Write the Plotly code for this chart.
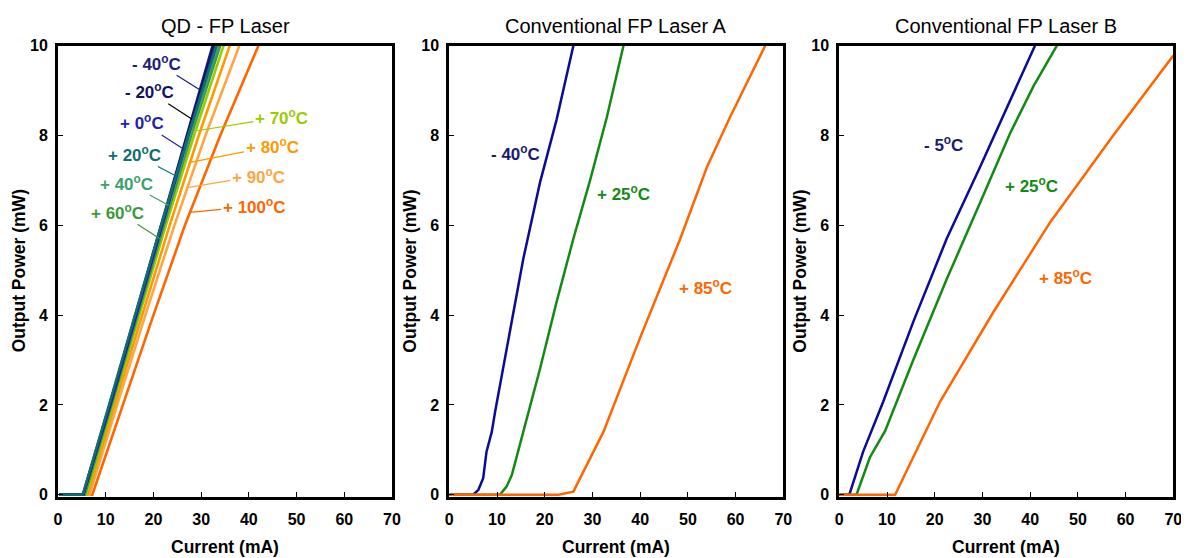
import numpy as np
import plotly.graph_objects as go
from plotly.subplots import make_subplots

# ---- QD - FP Laser: current (mA) at output power levels (mW) ----
qd_power = [0, 0, 2, 4, 6, 8, 10]
qd_temps = ["- 40", "- 20", "+ 0", "+ 20", "+ 40", "+ 60", "+ 70", "+ 80", "+ 90", "+ 100"]
qd_currents = {
    "- 40": [0.2, 5.2, 10.8, 16.2, 21.6, 26.9, 32.4],
    "- 20": [0.2, 5.3, 10.9, 16.3, 21.7, 27.1, 32.7],
    "+ 0": [0.2, 5.3, 11.0, 16.4, 21.8, 27.3, 33.0],
    "+ 20": [0.3, 5.2, 10.7, 16.1, 21.6, 27.3, 33.2],
    "+ 40": [0.3, 5.4, 11.0, 16.5, 22.0, 27.7, 33.6],
    "+ 60": [0.4, 5.6, 11.2, 16.7, 22.2, 27.9, 34.0],
    "+ 70": [0.5, 5.9, 11.5, 17.0, 22.6, 28.5, 34.7],
    "+ 80": [0.6, 6.2, 11.9, 17.6, 23.4, 29.5, 36.0],
    "+ 90": [0.7, 6.6, 12.4, 18.3, 24.4, 30.9, 38.0],
    "+ 100": [0.8, 7.2, 13.6, 20.0, 26.6, 34.0, 42.0],
}
qd_colors = {
    "- 40": "#1E1E78", "- 20": "#12125C", "+ 0": "#2222A8", "+ 20": "#0F6E6E",
    "+ 40": "#3DA070", "+ 60": "#3A9A3A", "+ 70": "#99CC00", "+ 80": "#FF9900",
    "+ 90": "#FFA544", "+ 100": "#FF6600",
}
# label anchor power on each curve (mW)
qd_label_power = {
    "- 40": 9.02, "- 20": 8.36, "+ 0": 7.69, "+ 20": 7.10, "+ 40": 6.44,
    "+ 60": 5.70, "+ 70": 8.10, "+ 80": 7.40, "+ 90": 6.84, "+ 100": 6.29,
}
qd_draw_order = ["+ 100", "+ 90", "+ 80", "+ 70", "+ 60", "+ 40", "- 40", "- 20", "+ 0", "+ 20"]

# ---- Conventional FP Laser A ----
a_m40_i = [0, 5.0, 6.1, 7.1, 7.8, 8.9, 9.6, 12.7, 15.5, 19.0, 22.5, 26.0]
a_m40_p = [0, 0, 0.11, 0.37, 0.96, 1.4, 1.85, 3.62, 5.25, 6.95, 8.36, 10]
a_p25_i = [0, 10.6, 12.0, 13.1, 15.5, 19.0, 22.5, 26.0, 29.5, 33.0, 36.5]
a_p25_p = [0, 0, 0.18, 0.44, 1.4, 2.8, 4.3, 5.7, 7.0, 8.4, 10]
a_p85_i = [0, 22.9, 26.0, 32.3, 40.0, 48.4, 54.0, 58.8, 66.2]
a_p85_p = [0, 0, 0.07, 1.4, 3.5, 5.7, 7.3, 8.4, 10]

# ---- Conventional FP Laser B ----
b_m5_i = [0, 2.1, 5.0, 9.2, 15.5, 22.5, 29.5, 35.8, 41.0]
b_m5_p = [0, 0, 0.96, 2.07, 3.85, 5.7, 7.3, 8.8, 10]
b_p25_i = [0, 3.6, 6.4, 9.6, 15.5, 22.5, 29.5, 35.8, 40.7, 45.6]
b_p25_p = [0, 0, 0.83, 1.42, 3.0, 4.8, 6.5, 8.05, 9.1, 10]
b_p85_i = [0, 11.7, 21.1, 32.3, 44.2, 57.4, 70.0]
b_p85_p = [0, 0, 2.07, 4.07, 6.07, 8.0, 9.78]

x_ticks = [0, 10, 20, 30, 40, 50, 60, 70]
y_ticks = [0, 2, 4, 6, 8, 10]

BLUE = "#0B0B96"
GREEN = "#138A13"
ORANGE = "#FF6600"
FONT = "Liberation Sans, Arial, sans-serif"

# page body has an 8px margin, so lay out in page pixels minus that offset
OFF = 8
W, H = 1181, 550


def px(x):
    return (x - OFF) / W


def py(y):
    return 1 - (y - OFF) / H


fig = make_subplots(rows=1, cols=3)

for t in qd_draw_order:
    fig.add_trace(go.Scatter(x=qd_currents[t], y=qd_power, mode="lines",
                             line=dict(color=qd_colors[t], width=2.6),
                             showlegend=False), row=1, col=1)

panel_a = [(a_m40_i, a_m40_p, BLUE), (a_p25_i, a_p25_p, GREEN), (a_p85_i, a_p85_p, ORANGE)]
for xs, ys, c in panel_a:
    fig.add_trace(go.Scatter(x=xs, y=ys, mode="lines", line=dict(color=c, width=2.5),
                             showlegend=False), row=1, col=2)

panel_b = [(b_m5_i, b_m5_p, BLUE), (b_p25_i, b_p25_p, GREEN), (b_p85_i, b_p85_p, ORANGE)]
for xs, ys, c in panel_b:
    fig.add_trace(go.Scatter(x=xs, y=ys, mode="lines", line=dict(color=c, width=2.5),
                             showlegend=False), row=1, col=3)

axis_style = dict(showline=True, linewidth=3, linecolor="black", mirror=True,
                  showgrid=False, zeroline=False, ticks="inside", ticklen=5,
                  tickwidth=1.2, tickcolor="black", automargin=False,
                  tickfont=dict(family=FONT, size=16, color="black", weight="bold"))

x_domains = [[px(58), px(392)], [px(449.3), px(783.3)], [px(839.3), px(1173.3)]]
y_domain = [py(497), py(45.7)]

for i in range(3):
    fig.update_xaxes(axis_style, range=[0, 70], tickvals=x_ticks, domain=x_domains[i],
                     ticklabelstandoff=6, row=1, col=i + 1)
    fig.update_yaxes(axis_style, range=[-0.05, 10], tickvals=y_ticks, domain=y_domain,
                     ticklabelstandoff=4, row=1, col=i + 1)

annotations = []

# subplot titles and axis titles
titles = ["QD - FP Laser", "Conventional FP Laser A", "Conventional FP Laser B"]
left_edges = [58, 449.3, 839.3]
for i, t in enumerate(titles):
    cx = (x_domains[i][0] + x_domains[i][1]) / 2
    annotations.append(dict(text=t, x=cx, y=py(26), xref="paper", yref="paper",
                            xanchor="center", yanchor="middle", showarrow=False,
                            font=dict(family=FONT, size=20, color="black")))
    annotations.append(dict(text="Current (mA)", x=cx, y=py(547), xref="paper",
                            yref="paper", xanchor="center", yanchor="middle",
                            showarrow=False,
                            font=dict(family=FONT, size=17.5, color="black", weight="bold")))
    annotations.append(dict(text="Output Power (mW)", x=px(left_edges[i] - 39),
                            y=(y_domain[0] + y_domain[1]) / 2, xref="paper", yref="paper",
                            xanchor="center", yanchor="middle",
                            textangle=-90, showarrow=False,
                            font=dict(family=FONT, size=17.5, color="black", weight="bold")))

# QD labels with leader lines (text offset in px from the point on the curve)
qd_label_offset = {
    "- 40": (-43, -27), "- 20": (-43, -28), "+ 0": (-42, -27), "+ 20": (-42, -22),
    "+ 40": (-42, -23), "+ 60": (-42, -27), "+ 70": (86, -14), "+ 80": (82, -16),
    "+ 90": (71, -12), "+ 100": (64, -6),
}
for t in qd_temps:
    p = qd_label_power[t]
    cur = float(np.interp(p, qd_power[1:], qd_currents[t][1:]))
    ax, ay = qd_label_offset[t]
    annotations.append(dict(
        text=t + "<sup>o</sup>C", x=cur, y=p, xref="x", yref="y",
        showarrow=True, arrowhead=0, arrowwidth=1.2,
        arrowcolor="black" if t == "- 20" else qd_colors[t],
        ax=ax, ay=ay, standoff=0,
        font=dict(family=FONT, size=17, color=qd_colors[t], weight="bold")))

# conventional laser labels
conv_labels = [
    ("x2", "y2", 13.8, 7.62, "- 40", "#1A1A70"),
    ("x2", "y2", 36.5, 6.72, "+ 25", GREEN),
    ("x2", "y2", 53.6, 4.63, "+ 85", ORANGE),
    ("x3", "y3", 21.8, 7.80, "- 5", "#1A1A70"),
    ("x3", "y3", 40.3, 6.90, "+ 25", GREEN),
    ("x3", "y3", 47.5, 4.86, "+ 85", ORANGE),
]
for xr, yr, xv, yv, t, c in conv_labels:
    annotations.append(dict(text=t + "<sup>o</sup>C", x=xv, y=yv, xref=xr, yref=yr,
                            showarrow=False,
                            font=dict(family=FONT, size=17, color=c, weight="bold")))

fig.update_layout(width=W, height=H, margin=dict(l=0, r=0, t=0, b=0),
                  template="none", plot_bgcolor="white", paper_bgcolor="white",
                  annotations=annotations, showlegend=False)

fig.write_html("out.html")
